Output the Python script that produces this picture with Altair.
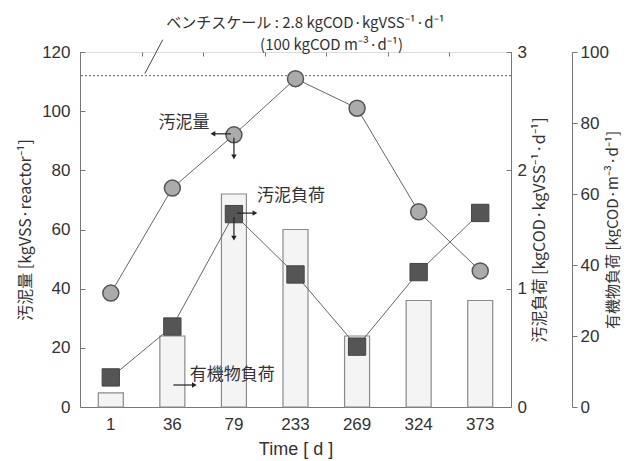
import altair as alt
import pandas as pd

days = ["1", "36", "79", "233", "269", "324", "373"]
sludge_amount = [38.5, 74, 92, 111, 101, 66, 46]          # 汚泥量 kgVSS/reactor (left axis)
sludge_load = [0.25, 0.68, 1.63, 1.12, 0.51, 1.14, 1.64]  # 汚泥負荷 kgCOD/kgVSS/d (inner right axis)
organic_load = [4, 20, 60, 50, 20, 30, 30]                # 有機物負荷 kgCOD/m3/d (outer right axis)
bench_scale = 2.8

left_ticks = [0, 20, 40, 60, 80, 100, 120]
mid_ticks = [0, 1, 2, 3]
out_ticks = [0, 20, 40, 60, 80, 100]

FONT = "Liberation Sans, Noto Sans CJK JP, DejaVu Sans"
JFONT = "Noto Sans CJK JP, Liberation Sans"
GRAY = "#777"
TXT = "#333"
INK = "#222"

df = pd.DataFrame({"day": days, "sludge": sludge_amount,
                   "load": sludge_load, "organic": organic_load})

xscale = alt.Scale(domain=days, paddingInner=0, paddingOuter=0)
y_left = alt.Scale(domain=[0, 120], nice=False)
y_mid = alt.Scale(domain=[0, 3], nice=False)
y_out = alt.Scale(domain=[0, 100], nice=False)


def xn():
    return alt.X("day:N", scale=xscale, sort=days, axis=None)


base = alt.Chart(df)

bars = base.mark_bar(size=25, fill="#f4f4f4", stroke="#8a8a8a", strokeWidth=1.2).encode(
    x=alt.X("day:N", scale=xscale, sort=days,
            axis=alt.Axis(orient="bottom", title="Time [ d ]", labelAngle=0, ticks=False,
                          grid=False, domainColor=GRAY, labelFontSize=17, labelPadding=9,
                          labelColor=TXT, labelFont=FONT, titleFont=FONT, titleFontSize=18,
                          titleColor=TXT, titleFontWeight="normal", titlePadding=8)),
    y=alt.Y("organic:Q", scale=y_out,
            axis=alt.Axis(orient="right", offset=61, values=out_ticks, tickSize=5, tickColor=GRAY,
                          domainColor=GRAY, grid=False, labelFontSize=17, labelPadding=3,
                          labelColor=TXT, labelFont=FONT, title="有機物負荷 [kgCOD·m⁻³·d⁻¹]",
                          titleFont=JFONT, titleFontSize=15, titleFontWeight="normal",
                          titleColor=TXT, titleAngle=270, titleX=40, titleAlign="center",
                          titleBaseline="middle")),
)

# inward tick marks between the day categories (grid lines cut to 4 px)
x_ticks = base.mark_bar(opacity=0).encode(
    x=alt.X("day:N", scale=xscale, sort=days,
            axis=alt.Axis(orient="bottom", labels=False, ticks=False, domain=False, title=None,
                          grid=True, tickBand="extent", gridDash=[4, 1000], gridColor=GRAY)),
    y=alt.Y("organic:Q", scale=y_out, axis=None),
)

circ_line = base.mark_line(color="#666", strokeWidth=1).encode(
    x=xn(),
    y=alt.Y("sludge:Q", scale=y_left,
            axis=alt.Axis(orient="left", values=left_ticks, ticks=False, grid=True,
                          gridDash=[5, 1000], gridColor=GRAY, domainColor=GRAY,
                          labelFontSize=17, labelPadding=10, labelColor=TXT, labelFont=FONT,
                          title="汚泥量 [kgVSS·reactor⁻¹]", titleFont=JFONT, titleFontSize=16,
                          titleFontWeight="normal", titleColor=TXT, titlePadding=8)),
)
circ_pts = base.mark_circle(size=256, fill="#ababab", stroke="#555", strokeWidth=1.5,
                            opacity=1).encode(
    x=xn(), y=alt.Y("sludge:Q", scale=y_left, axis=None))

sq_line = base.mark_line(color="#666", strokeWidth=1).encode(
    x=xn(),
    y=alt.Y("load:Q", scale=y_mid,
            axis=alt.Axis(orient="right", values=mid_ticks, ticks=False, grid=True,
                          gridDash=[5, 1000], gridColor=GRAY, domainColor=GRAY,
                          labelFontSize=17, labelPadding=6, labelColor=TXT, labelFont=FONT,
                          title="汚泥負荷 [kgCOD·kgVSS⁻¹·d⁻¹]", titleFont=JFONT,
                          titleFontSize=16, titleFontWeight="normal", titleColor=TXT,
                          titleAngle=270, titleX=28, titleAlign="center",
                          titleBaseline="middle")),
)
sq_pts = base.mark_square(size=300, fill="#555", stroke="#444", strokeWidth=1,
                          opacity=1).encode(
    x=xn(), y=alt.Y("load:Q", scale=y_mid, axis=None))

# bench-scale dotted line
bench_df = pd.DataFrame({"day": ["233"], "v": [bench_scale]})
bench_rule = alt.Chart(bench_df).mark_rule(color="#666", strokeDash=[2, 2], strokeWidth=1).encode(
    y=alt.Y("v:Q", scale=y_mid, axis=None))
bench_txt1 = alt.Chart(bench_df).mark_text(
    text="ベンチスケール : 2.8 kgCOD·kgVSS⁻¹·d⁻¹", font=JFONT, fontSize=15, color=TXT,
    dx=10, dy=-53).encode(x=xn(), y=alt.Y("v:Q", scale=y_mid, axis=None))
bench_txt2 = alt.Chart(bench_df).mark_text(
    text="(100 kgCOD m⁻³·d⁻¹)", font=JFONT, fontSize=15, color=TXT,
    dx=36, dy=-31).encode(x=xn(), y=alt.Y("v:Q", scale=y_mid, axis=None))
slash_df = pd.DataFrame({"day": ["1"], "v": [bench_scale]})
slash = alt.Chart(slash_df).mark_rule(color="#444", strokeWidth=1,
                                      xOffset=34, yOffset=-2, x2Offset=52, y2Offset=-36).encode(
    x=xn(), x2="day", y=alt.Y("v:Q", scale=y_mid, axis=None), y2="v")


def label(day, val, scale, text, dx, dy):
    d = pd.DataFrame({"day": [day], "v": [val]})
    return alt.Chart(d).mark_text(text=text, font=JFONT, fontSize=17, color=TXT,
                                  dx=dx, dy=dy).encode(
        x=xn(), y=alt.Y("v:Q", scale=scale, axis=None))


def arrow(day, val, scale, direction, ox, oy, length):
    d = pd.DataFrame({"day": [day], "v": [val]})
    enc = dict(x=xn(), y=alt.Y("v:Q", scale=scale, axis=None))
    if direction in ("left", "right"):
        sgn = -1 if direction == "left" else 1
        shaft = alt.Chart(d).mark_tick(orient="horizontal", size=length, thickness=1.2,
                                       color=INK, opacity=1,
                                       xOffset=ox + sgn * length / 2, yOffset=oy).encode(**enc)
        tip = alt.Chart(d).mark_point(shape="triangle-" + direction, filled=True, size=30,
                                      color=INK, opacity=1,
                                      xOffset=ox + sgn * length, yOffset=oy).encode(**enc)
    else:
        shaft = alt.Chart(d).mark_tick(orient="vertical", size=length, thickness=1.2,
                                       color=INK, opacity=1,
                                       xOffset=ox, yOffset=oy + length / 2).encode(**enc)
        tip = alt.Chart(d).mark_point(shape="triangle-down", filled=True, size=30,
                                      color=INK, opacity=1,
                                      xOffset=ox, yOffset=oy + length).encode(**enc)
    return [shaft, tip]


annots = []
annots.append(label("79", sludge_amount[2], y_left, "汚泥量", -50, -12))
annots += arrow("79", sludge_amount[2], y_left, "left", -3, -1, 18)
annots += arrow("79", sludge_amount[2], y_left, "down", 0, 3, 19)
annots.append(label("79", sludge_load[2], y_mid, "汚泥負荷", 57, -18))
annots += arrow("79", sludge_load[2], y_mid, "right", 3, -1, 18)
annots += arrow("79", sludge_load[2], y_mid, "down", 0, 3, 21)
annots.append(label("36", organic_load[1], y_out, "有機物負荷", 60, 39))
annots += arrow("36", organic_load[1], y_out, "right", 1, 49, 21)

chart = alt.layer(
    bars, x_ticks, bench_rule, slash, bench_txt1, bench_txt2,
    circ_line, sq_line, circ_pts, sq_pts, *annots
).resolve_scale(y="independent").resolve_axis(x="independent").properties(
    width=431, height=355,
    autosize=alt.AutoSizeParams(type="none"),
    padding={"left": 72, "top": 44, "right": 110, "bottom": 54},
).configure_view(stroke=GRAY, strokeWidth=1).configure(background="white")

chart.save("out.html", embed_options={"renderer": "svg", "actions": False})
